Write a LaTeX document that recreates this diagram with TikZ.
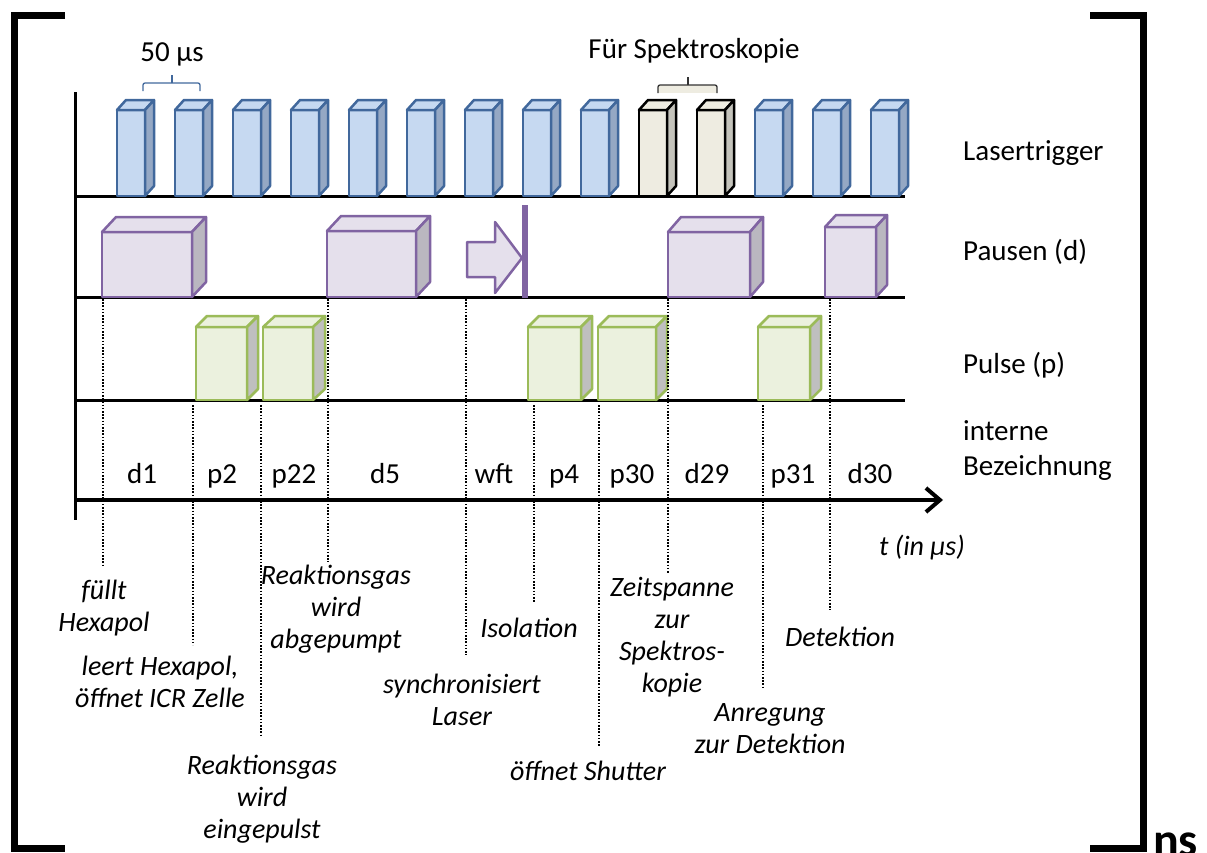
\documentclass[tikz,border=0pt]{standalone}
\usepackage{fontspec}
\setmainfont{Carlito}
\usetikzlibrary{arrows.meta}
\definecolor{lblue}{HTML}{41689C}
\definecolor{lfill}{HTML}{C6D9F1}
\definecolor{lsidec}{HTML}{95A8C4}
\definecolor{kfill}{HTML}{EEECE1}
\definecolor{ksidec}{HTML}{C4C3BB}
\definecolor{pline}{HTML}{8064A2}
\definecolor{pfill}{HTML}{E5E0EC}
\definecolor{psidec}{HTML}{BAB7C0}
\definecolor{gline}{HTML}{9BBB59}
\definecolor{gfill}{HTML}{EBF1DE}
\definecolor{gsidec}{HTML}{BFBFBF}
\newcommand\cuboid[7]{%
  \filldraw[#1front] (#2,#4) rectangle (#3,#5);
  \filldraw[#1front] (#2,#4) -- ({#2+#6},{#4-#7}) -- ({#3+#6},{#4-#7}) -- (#3,#4) -- cycle;
  \filldraw[#1side] (#3,#4) -- ({#3+#6},{#4-#7}) -- ({#3+#6},{#5-#7}) -- (#3,#5) -- cycle;
}
\begin{document}
\begin{tikzpicture}[x=1pt,y=-1pt,
  lfront/.style={draw=lblue,fill=lfill,line width=2.5,line join=round},
  lside/.style={draw=lblue,fill=lsidec,line width=2.5,line join=round},
  kfront/.style={draw=black,fill=kfill,line width=2.5,line join=round},
  kside/.style={draw=black,fill=ksidec,line width=2.5,line join=round},
  pfront/.style={draw=pline,fill=pfill,line width=2.5,line join=round},
  pside/.style={draw=pline,fill=psidec,line width=2.5,line join=round},
  gfront/.style={draw=gline,fill=gfill,line width=2.5,line join=round},
  gside/.style={draw=gline,fill=gsidec,line width=2.5,line join=round},
  base/.style={line width=3},
  bracket/.style={line width=7,line join=miter},
  dots/.style={line width=2,dash pattern=on 1.6pt off 1.6pt},
  lbl/.style={font=\fontsize{29}{32}\selectfont,anchor=base,inner sep=0},
  rlbl/.style={font=\fontsize{29}{34}\selectfont,anchor=base west,inner sep=0},
  desc/.style={font=\fontsize{28}{32}\selectfont\itshape,anchor=base,align=center,inner sep=0}
]
\useasboundingbox (0,0) rectangle (1207,852);
% brackets
\draw[bracket] (65,15.5) -- (14,15.5) -- (14,848.5) -- (65,848.5);
\draw[bracket] (1090,15.5) -- (1143,15.5) -- (1143,848.5) -- (1090,848.5);
\node[font=\fontsize{48}{50}\selectfont\bfseries,anchor=base west,inner sep=0] (ns) at (1153,856) {ns};
% axes and baselines
\coordinate (yaxT) at (75,92);
\coordinate (yaxB) at (75,520);
\draw[base] (yaxT) -- (yaxB);
\coordinate (b1L) at (75,196); \coordinate (b1R) at (905,196);
\coordinate (b2L) at (75,297); \coordinate (b2R) at (905,297);
\coordinate (b3L) at (75,400); \coordinate (b3R) at (905,400);
\draw[base] (b1L) -- (b1R);
\draw[base] (b2L) -- (b2R);
\draw[base] (b3L) -- (b3R);
\coordinate (taL) at (75,500); \coordinate (taR) at (943,500);
\draw[line width=4,-{Straight Barb[length=14pt,width=24pt,line width=4pt]}] (taL) -- (taR);
% laser trigger bars
\foreach \i in {0,...,13}{
  \pgfmathsetmacro\xa{117+58*\i}
  \pgfmathsetmacro\xb{\xa+28}
  \ifnum\i=9 \cuboid{k}{\xa}{\xb}{110}{196}{9}{10}
  \else\ifnum\i=10 \cuboid{k}{\xa}{\xb}{110}{196}{9}{10}
  \else \cuboid{l}{\xa}{\xb}{110}{196}{9}{10}\fi\fi
}
% braces
\draw[lblue,line width=1.3,rounded corners=2] (143,91) -- (143,83) -- (200,83) -- (200,91);
\draw[lblue,line width=1.3] (172,83) -- (172,75);
\fill[kfill] (658,93) -- (658,85) -- (717,85) -- (717,93) -- cycle;
\draw[black!80,line width=1.3,rounded corners=2] (658,93) -- (658,85) -- (717,85) -- (717,93);
\draw[black!80,line width=1.3] (688,85) -- (688,77);
\node[lbl] (t50) at (172,61) {50 µs};
\node[lbl] (tspek) at (694,58) {Für Spektroskopie};
% Pausen
\cuboid{p}{102}{192}{232}{297}{14}{15}
\cuboid{p}{327}{416}{231}{297}{14}{15}
\cuboid{p}{668}{750}{232}{297}{13}{15}
\cuboid{p}{825}{876}{227}{297}{11}{12}
\filldraw[pfront] (467,242) -- (495,242) -- (495,222) -- (522,258) -- (495,293) -- (495,277) -- (467,277) -- cycle;
\fill[pline] (522,205) rectangle (528,298);
% Pulse
\cuboid{g}{196}{247}{327}{400}{11}{11}
\cuboid{g}{263}{313}{327}{400}{12}{11}
\cuboid{g}{528}{581}{327}{400}{11}{11}
\cuboid{g}{598}{656}{327}{400}{11}{11}
\cuboid{g}{758}{810}{327}{400}{11}{11}
% right labels
\node[rlbl] (lt) at (963,160) {Lasertrigger};
\node[rlbl] (pd) at (963,260) {Pausen (d)};
\node[rlbl] (pp) at (963,373) {Pulse (p)};
\node[rlbl] (ib1) at (963,440) {interne};
\node[rlbl] (ib2) at (963,475) {Bezeichnung};
% axis labels
\node[lbl] (ld1) at (142,483) {d1};
\node[lbl] (lp2) at (222,483) {p2};
\node[lbl] (lp22) at (294,483) {p22};
\node[lbl] (ld5) at (385,483) {d5};
\node[lbl] (lwft) at (494,483) {wft};
\node[lbl] (lp4) at (564,483) {p4};
\node[lbl] (lp30) at (632,483) {p30};
\node[lbl] (ld29) at (707,483) {d29};
\node[lbl] (lp31) at (793,483) {p31};
\node[lbl] (ld30) at (870,483) {d30};
\node[desc] (tin) at (922,555) {t (in µs)};
% descriptions (anchor = baseline of last line)
\node[desc] (e1) at (104,631) {füllt\\Hexapol};
\node[desc] (e2) at (160,707) {leert Hexapol,\\öffnet ICR Zelle};
\node[desc] (e3) at (262,838) {Reaktionsgas\\wird\\eingepulst};
\node[desc] (e4) at (336,648) {Reaktionsgas\\wird\\abgepumpt};
\node[desc] (e5) at (462,725) {synchronisiert\\Laser};
\node[desc] (e6) at (529,637) {Isolation};
\node[desc] (e7) at (588,780) {öffnet Shutter};
\node[desc] (e8) at (672,692) {Zeitspanne\\zur\\Spektros-\\kopie};
\node[desc] (e9) at (770,753) {Anregung\\zur Detektion};
\node[desc] (e10) at (840,646) {Detektion};
% dotted markers
\foreach \n/\x/\ya/\yb in {1/103/299/567, 2/193/405/645, 3/261/405/737, 4/328/299/562, 5/466/299/655, 6/534/405/602, 7/599/405/747, 8/668/299/573, 9/763/405/687, 10/830/299/610}{
  \coordinate (v\n t) at (\x,\ya);
  \coordinate (v\n b) at (\x,\yb);
  \draw[dots] (v\n t) -- (v\n b);
}
\end{tikzpicture}
\end{document}
